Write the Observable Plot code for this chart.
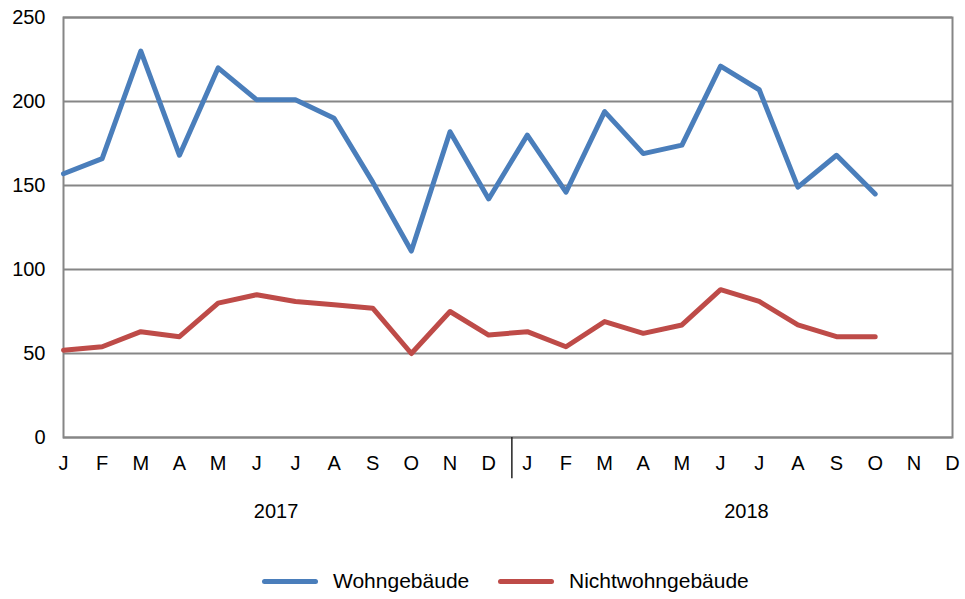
<!DOCTYPE html>
<html>
<head>
<meta charset="utf-8">
<script src="https://cdn.jsdelivr.net/npm/d3@7"></script>
<script src="https://cdn.jsdelivr.net/npm/@observablehq/plot@0.6"></script>
<style>
  body { margin: 0; background: #fff; font-family: "Liberation Sans", Arial, sans-serif; }
  #chart svg { display: block; }
  #legend { position: relative; height: 54px; }
  .item { position: absolute; top: 18px; height: 36px; display: flex; align-items: center; font-size: 21px; color: #000; }
  .sw { width: 56px; height: 5px; border-radius: 3px; margin-right: 15px; }
</style>
</head>
<body>
<div id="chart"></div>
<div id="legend"></div>
<script>
const months = ["J","F","M","A","M","J","J","A","S","O","N","D","J","F","M","A","M","J","J","A","S","O","N","D"];
const wohngebaeude = [157,166,230,168,220,201,201,190,152,111,182,142,180,146,194,169,174,221,207,149,168,145];
const nichtwohngebaeude = [52,54,63,60,80,85,81,79,77,50,75,61,63,54,69,62,67,88,81,67,60,60];
const years = ["2017","2018"];
const yearCenters = [5.5, 17.67];
const yTicks = [0,50,100,150,200,250];
const seriesNames = ["Wohngebäude","Nichtwohngebäude"];
const seriesColors = ["#4a7ebb","#be4b48"];

const rows = [];
wohngebaeude.forEach((v,i) => rows.push({i, v, s: seriesNames[0]}));
nichtwohngebaeude.forEach((v,i) => rows.push({i, v, s: seriesNames[1]}));

const chart = Plot.plot({
  width: 965,
  height: 545,
  marginLeft: 63,
  marginRight: 13,
  marginTop: 17,
  marginBottom: 108,
  style: {fontFamily: '"Liberation Sans", Arial, sans-serif', fontSize: "20px", color: "#000", background: "#fff"},
  x: {type: "linear", domain: [0, 23]},
  y: {domain: [0, 250]},
  color: {domain: seriesNames, range: seriesColors},
  marks: [
    Plot.gridY(yTicks, {stroke: "#868686", strokeOpacity: 1, strokeWidth: 2}),
    Plot.frame({stroke: "#868686", strokeWidth: 2}),
    Plot.axisY(yTicks, {tickSize: 0, tickPadding: 18, fontSize: 20, label: null}),
    Plot.axisX(d3.range(months.length), {tickSize: 0, tickPadding: 18, fontSize: 20, tickFormat: i => months[i], label: null}),
    Plot.ruleX([11.6], {y1: 0, y2: -24.5, stroke: "#222", strokeWidth: 1.5}),
    Plot.text(years, {x: (d, k) => yearCenters[k], text: d => d, frameAnchor: "bottom", dy: 80, fontSize: 20, fill: "#000"}),
    Plot.line(rows, {x: "i", y: "v", z: "s", stroke: "s", strokeWidth: 5, strokeLinejoin: "round", strokeLinecap: "round"})
  ]
});
document.getElementById("chart").appendChild(chart);

const legend = document.getElementById("legend");
const lefts = [262, 498];
seriesNames.forEach((n, k) => {
  const it = document.createElement("div");
  it.className = "item";
  it.style.left = lefts[k] + "px";
  it.innerHTML = `<span class="sw" style="background:${seriesColors[k]}"></span><span>${n}</span>`;
  legend.appendChild(it);
});
</script>
</body>
</html>
